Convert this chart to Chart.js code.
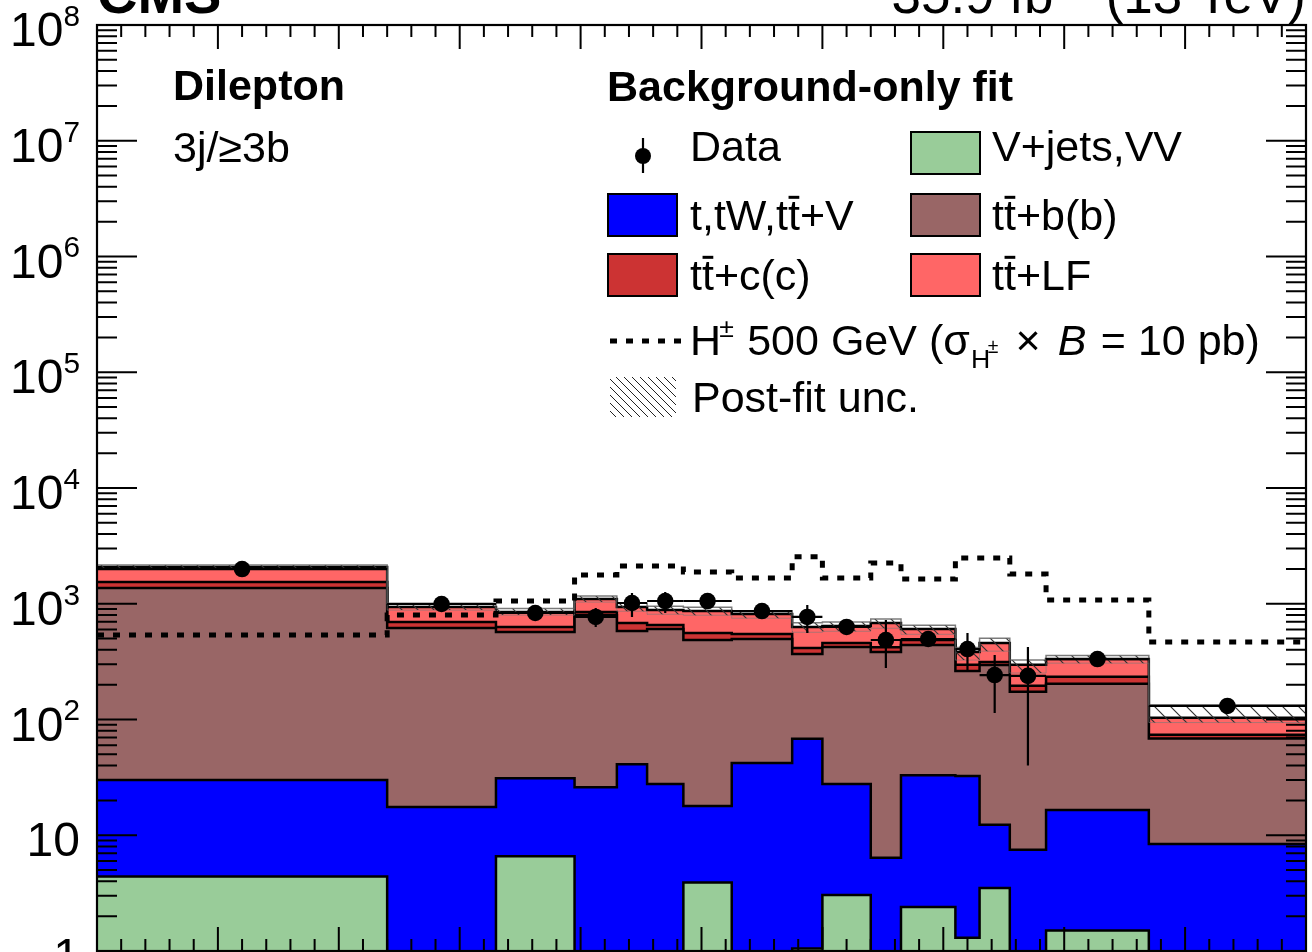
<!DOCTYPE html>
<html>
<head>
<meta charset="utf-8">
<title>Dilepton 3j/≥3b, background-only fit</title>
<script src="https://cdn.jsdelivr.net/npm/chart.js@4.4.1/dist/chart.umd.min.js"></script>
<style>
  html, body { margin: 0; padding: 0; background: #fff; }
  canvas { display: block; }
</style>
</head>
<body>
<canvas id="plot" width="1312" height="952"></canvas>
<script>
// Variable-width bins of the discriminant (x runs 0..1)
const binEdges = [0, 0.24, 0.33, 0.395, 0.43, 0.455, 0.485, 0.525, 0.575, 0.6, 0.64, 0.665, 0.71, 0.73, 0.755, 0.785, 0.87, 1.0];

// Post-fit yields per bin, bottom of the stack first
const vJets   = [4.4, 0, 6.6, 0, 0, 0, 3.9, 0, 1.05, 3.05, 0, 2.4, 1.3, 3.5, 0, 1.5, 0];
const singleT = [25.6, 17.5, 24.4, 26, 41, 27.7, 14.0, 42, 67, 24.6, 6.4, 30.6, 31.2, 8.8, 7.5, 15.0, 8.4];
const ttbb    = [1338, 600, 539, 773, 541, 577, 468, 454, 300, 395, 377, 408, 230, 284, 166, 187, 60];
const ttcc    = [174, 78, 60, 50, 100, 50, 73, 52, 47, 35, 37, 45, 34, 18, 22, 30, 5.5];
const ttlf    = [536, 242, 219, 250, 255, 228, 306, 267, 215, 185, 262, 119, 87, 144, 101, 100, 29.5];

// relative post-fit uncertainty on the total (up / down)
const uncUp = [0.04, 0.08, 0.07, 0.06, 0.08, 0.08, 0.08, 0.07, 0.09, 0.08, 0.08, 0.08, 0.09, 0.10, 0.10, 0.07, 0.29];
const uncDn = [0.04, 0.06, 0.06, 0.06, 0.08, 0.08, 0.08, 0.08, 0.10, 0.10, 0.10, 0.10, 0.15, 0.15, 0.15, 0.08, 0.09];

// H+ 500 GeV signal (sigma x B = 10 pb)
const signal = [537, 800, 1056, 1771, 2120, 2120, 1880, 1668, 2550, 1668, 2250, 1637, 2485, 2485, 1807, 1076, 467];

// Observed data and its error bar (down / up)
const dataVal   = [1995, 995, 832, 769, 1015, 1056, 1056, 865, 769, 630, 486, 496, 406, 242, 238, 333, 131];
const dataErrUp = [45, 32, 30, 149, 224, 208, 35, 30, 206, 25, 238, 25, 152, 119, 185, 20, 12];
const dataErrDn = [45, 32, 30, 139, 246, 224, 35, 30, 210, 25, 207, 25, 149, 128, 198, 20, 12];

// axis ticks
const yDecades = [0, 1, 2, 3, 4, 5, 6, 7, 8];
const xMajorStep = 0.1;
const xMinorPerMajor = 5;

const FONT = '"Liberation Sans", Arial, Helvetica, sans-serif';
const font = (size, bold, italic) => `${italic ? 'italic ' : ''}${bold ? 'bold ' : ''}${size}px ${FONT}`;

// histogram as stepped points: one point per left edge, plus the last right edge.
// empty bins sit below the axis (a log axis cannot show 0)
function steps(vals) {
  return binEdges.map((x, i) => ({ x, y: Math.max(vals[Math.min(i, vals.length - 1)], 0.01) }));
}

// hatch pattern for the uncertainty band
function hatch(size, color) {
  const c = document.createElement('canvas');
  c.width = size; c.height = size;
  const g = c.getContext('2d');
  g.strokeStyle = color; g.lineWidth = 1.2;
  g.beginPath();
  g.moveTo(-2, -2); g.lineTo(size + 2, size + 2);
  g.moveTo(-2, size - 2); g.lineTo(2, size + 2);
  g.moveTo(size - 2, -2); g.lineTo(size + 2, 2);
  g.stroke();
  return g.createPattern(c, 'repeat');
}

const layers = [
  { name: 'V+jets,VV', vals: vJets, color: '#99cc99' },
  { name: 't,tW,ttV', vals: singleT, color: '#0000ff' },
  { name: 'tt+b(b)', vals: ttbb, color: '#996666' },
  { name: 'tt+c(c)', vals: ttcc, color: '#cc3333' },
  { name: 'tt+LF', vals: ttlf, color: '#ff6666' },
];

const datasets = [];
let cum = new Array(ttlf.length).fill(0);
layers.forEach((l, k) => {
  cum = cum.map((c, i) => c + l.vals[i]);
  datasets.push({
    label: l.name,
    data: steps(cum),
    stepped: 'before',
    borderColor: '#000',
    borderWidth: 2.5,
    backgroundColor: l.color,
    fill: 'start',
    pointRadius: 0,
    order: 10 + k
  });
});
const total = cum;

datasets.push({
  label: 'unc-lo',
  data: steps(total.map((t, i) => t * (1 - uncDn[i]))),
  stepped: 'before',
  borderColor: 'rgba(120,120,120,0.6)',
  borderWidth: 1,
  fill: false,
  pointRadius: 0,
  order: 5
});
datasets.push({
  label: 'Post-fit unc.',
  data: steps(total.map((t, i) => t * (1 + uncUp[i]))),
  stepped: 'before',
  borderColor: 'rgba(90,90,90,0.8)',
  borderWidth: 1.5,
  backgroundColor: hatch(16, '#333'),
  fill: '-1',
  pointRadius: 0,
  order: 4
});
datasets.push({
  label: 'signal',
  data: steps(signal),
  stepped: 'before',
  borderColor: '#000',
  borderWidth: 5,
  borderDash: [7, 9],
  fill: false,
  pointRadius: 0,
  order: 2
});
const centers = dataVal.map((v, i) => (binEdges[i] + binEdges[i + 1]) / 2);
datasets.push({
  label: 'Data',
  data: dataVal.map((v, i) => ({ x: centers[i], y: v })),
  showLine: false,
  pointRadius: 8.3,
  pointBackgroundColor: '#000',
  pointBorderWidth: 0,
  order: 0
});

// draws text pieces with superscripts, subscripts and overbars
function richText(ctx, x, y, parts, size, measureOnly) {
  ctx.textAlign = 'left';
  ctx.textBaseline = 'alphabetic';
  const x0 = x;
  for (const p of parts) {
    let s = size, dy = 0;
    if (p.sup) { s = size * 0.62; dy = -size * 0.42; }
    if (p.sub) { s = size * 0.62; dy = size * 0.3; }
    if (p.subsup) { s = size * 0.45; dy = -size * 0.05; }
    ctx.font = font(s, p.b, p.it);
    const w = ctx.measureText(p.t).width;
    const xx = x + (p.dx || 0) * size;
    if (!measureOnly) {
      ctx.fillText(p.t, xx, y + dy);
      if (p.bar) {
        ctx.save();
        ctx.lineWidth = size * 0.07;
        ctx.beginPath();
        ctx.moveTo(xx + w * 0.05, y - size * 0.76);
        ctx.lineTo(xx + w * 0.95, y - size * 0.76);
        ctx.stroke();
        ctx.restore();
      }
    }
    x = xx + w;
  }
  return x - x0;
}

const ttbar = [{ t: 't' }, { t: 't', bar: true }];

const rootLook = {
  id: 'rootLook',
  afterDatasetsDraw(chart) {
    // data error bars: vertical = uncertainty, horizontal = bin width
    const { ctx, scales: { x, y } } = chart;
    ctx.save();
    ctx.strokeStyle = '#000';
    ctx.lineWidth = 2.2;
    dataVal.forEach((v, i) => {
      const px = x.getPixelForValue(centers[i]);
      const py = y.getPixelForValue(v);
      ctx.beginPath();
      ctx.moveTo(px, y.getPixelForValue(v + dataErrUp[i]));
      ctx.lineTo(px, y.getPixelForValue(v - dataErrDn[i]));
      ctx.moveTo(x.getPixelForValue(binEdges[i]), py);
      ctx.lineTo(x.getPixelForValue(binEdges[i + 1]), py);
      ctx.stroke();
    });
    ctx.restore();
  },
  afterDraw(chart) {
    const { ctx, chartArea: a, scales: { x, y } } = chart;
    ctx.save();
    ctx.strokeStyle = '#000';
    ctx.fillStyle = '#000';

    // ticks (inside, on all four sides)
    ctx.lineWidth = 2;
    ctx.beginPath();
    const nx = Math.round(1 / xMajorStep) * xMinorPerMajor;
    for (let i = 0; i <= nx; i++) {
      const px = x.getPixelForValue(i * xMajorStep / xMinorPerMajor);
      const len = i % xMinorPerMajor === 0 ? 24 : 12;
      ctx.moveTo(px, a.bottom); ctx.lineTo(px, a.bottom - len);
      ctx.moveTo(px, a.top); ctx.lineTo(px, a.top + len);
    }
    yDecades.forEach(e => {
      for (let m = 1; m <= 9; m++) {
        if (e === yDecades[yDecades.length - 1] && m > 1) break;
        const py = y.getPixelForValue(m * Math.pow(10, e));
        const len = m === 1 ? 40 : 20;
        ctx.moveTo(a.left, py); ctx.lineTo(a.left + len, py);
        ctx.moveTo(a.right, py); ctx.lineTo(a.right - len, py);
      }
    });
    ctx.stroke();

    // frame
    ctx.lineWidth = 2.2;
    ctx.strokeRect(a.left, a.top, a.right - a.left, a.bottom - a.top);

    // y tick labels
    yDecades.forEach(e => {
      const py = y.getPixelForValue(Math.pow(10, e));
      const parts = e === 0 ? [{ t: '1' }] : e === 1 ? [{ t: '10' }] : [{ t: '10' }, { t: String(e), sup: true }];
      const w = richText(ctx, 0, 0, parts, 48, true);
      richText(ctx, 80 - w, py + 21, parts, 48);
    });

    // CMS and luminosity (cut by the top of the picture)
    ctx.font = font(56, true);
    ctx.fillText('CMS', a.left, 13);
    const lumi = [{ t: '35.9 fb' }, { t: '\u22121', sup: true }, { t: ' (13 TeV)' }];
    const lw = richText(ctx, 0, 0, lumi, 53, true);
    richText(ctx, a.right - lw, 13, lumi, 53);

    // category labels
    ctx.font = font(43, true);
    ctx.fillText('Dilepton', 173, 100);
    ctx.font = font(43);
    ctx.fillText('3j/\u22653b', 173, 162);

    // legend
    ctx.font = font(43, true);
    ctx.fillText('Background-only fit', 607, 101);

    const col1 = 608, col2 = 911, boxW = 69, boxH = 42, txt1 = 690, txt2 = 992;
    const rows = [153, 215, 275, 341, 397];
    const box = (bx, cy, color) => {
      ctx.fillStyle = color;
      ctx.fillRect(bx, cy - boxH / 2, boxW, boxH);
      ctx.lineWidth = 2;
      ctx.strokeRect(bx, cy - boxH / 2, boxW, boxH);
      ctx.fillStyle = '#000';
    };
    // Data
    ctx.beginPath();
    ctx.lineWidth = 2.2;
    ctx.moveTo(643, rows[0] - 15); ctx.lineTo(643, rows[0] + 20);
    ctx.stroke();
    ctx.beginPath(); ctx.arc(643, rows[0] + 3, 8, 0, Math.PI * 2); ctx.fill();
    richText(ctx, txt1, rows[0] + 8, [{ t: 'Data' }], 43);

    box(col2, rows[0], layers[0].color);
    richText(ctx, txt2, rows[0] + 8, [{ t: 'V+jets,VV' }], 43);
    box(col1, rows[1], layers[1].color);
    richText(ctx, txt1, rows[1] + 15, [{ t: 't,tW,' }, ...ttbar, { t: '+V' }], 43);
    box(col2, rows[1], layers[2].color);
    richText(ctx, txt2, rows[1] + 15, [...ttbar, { t: '+b(b)' }], 43);
    box(col1, rows[2], layers[3].color);
    richText(ctx, txt1, rows[2] + 15, [...ttbar, { t: '+c(c)' }], 43);
    box(col2, rows[2], layers[4].color);
    richText(ctx, txt2, rows[2] + 15, [...ttbar, { t: '+LF' }], 43);

    // signal
    ctx.save();
    ctx.lineWidth = 5;
    ctx.setLineDash([7, 9]);
    ctx.beginPath();
    ctx.moveTo(610, rows[3]); ctx.lineTo(684, rows[3]);
    ctx.stroke();
    ctx.restore();
    richText(ctx, txt1, rows[3] + 14, [
      { t: 'H' }, { t: '\u00b1', sup: true, dx: -0.04 },
      { t: ' 500 GeV (\u03c3', dx: 0.03 }, { t: 'H', sub: true, dx: 0.03 }, { t: '\u00b1', subsup: true, dx: -0.06 },
      { t: ' \u00d7', dx: 0.12 }, { t: ' ' }, { t: 'B', it: true, dx: 0.12 }, { t: ' = 10 pb)', dx: 0.06 }
    ], 43);

    // uncertainty
    ctx.save();
    ctx.beginPath();
    ctx.rect(610, rows[4] - 20, 66, 40);
    ctx.clip();
    ctx.lineWidth = 1;
    ctx.strokeStyle = '#222';
    ctx.beginPath();
    for (let k = -50; k < 80; k += 8) {
      ctx.moveTo(610 + k, rows[4] - 20);
      ctx.lineTo(610 + k + 40, rows[4] + 20);
    }
    ctx.stroke();
    ctx.restore();
    richText(ctx, txt1 + 2, rows[4] + 15, [{ t: 'Post-fit unc.' }], 43);

    ctx.restore();
  }
};

new Chart(document.getElementById('plot').getContext('2d'), {
  type: 'line',
  data: { datasets },
  options: {
    responsive: false,
    animation: false,
    devicePixelRatio: 1,
    layout: { autoPadding: false, padding: { left: 97, right: 6, top: 25, bottom: 1 } },
    scales: {
      x: { type: 'linear', min: 0, max: 1, display: false },
      y: { type: 'logarithmic', min: 1, max: 1e8, display: false }
    },
    plugins: {
      legend: { display: false },
      tooltip: { enabled: false }
    }
  },
  plugins: [rootLook]
});
</script>
</body>
</html>
